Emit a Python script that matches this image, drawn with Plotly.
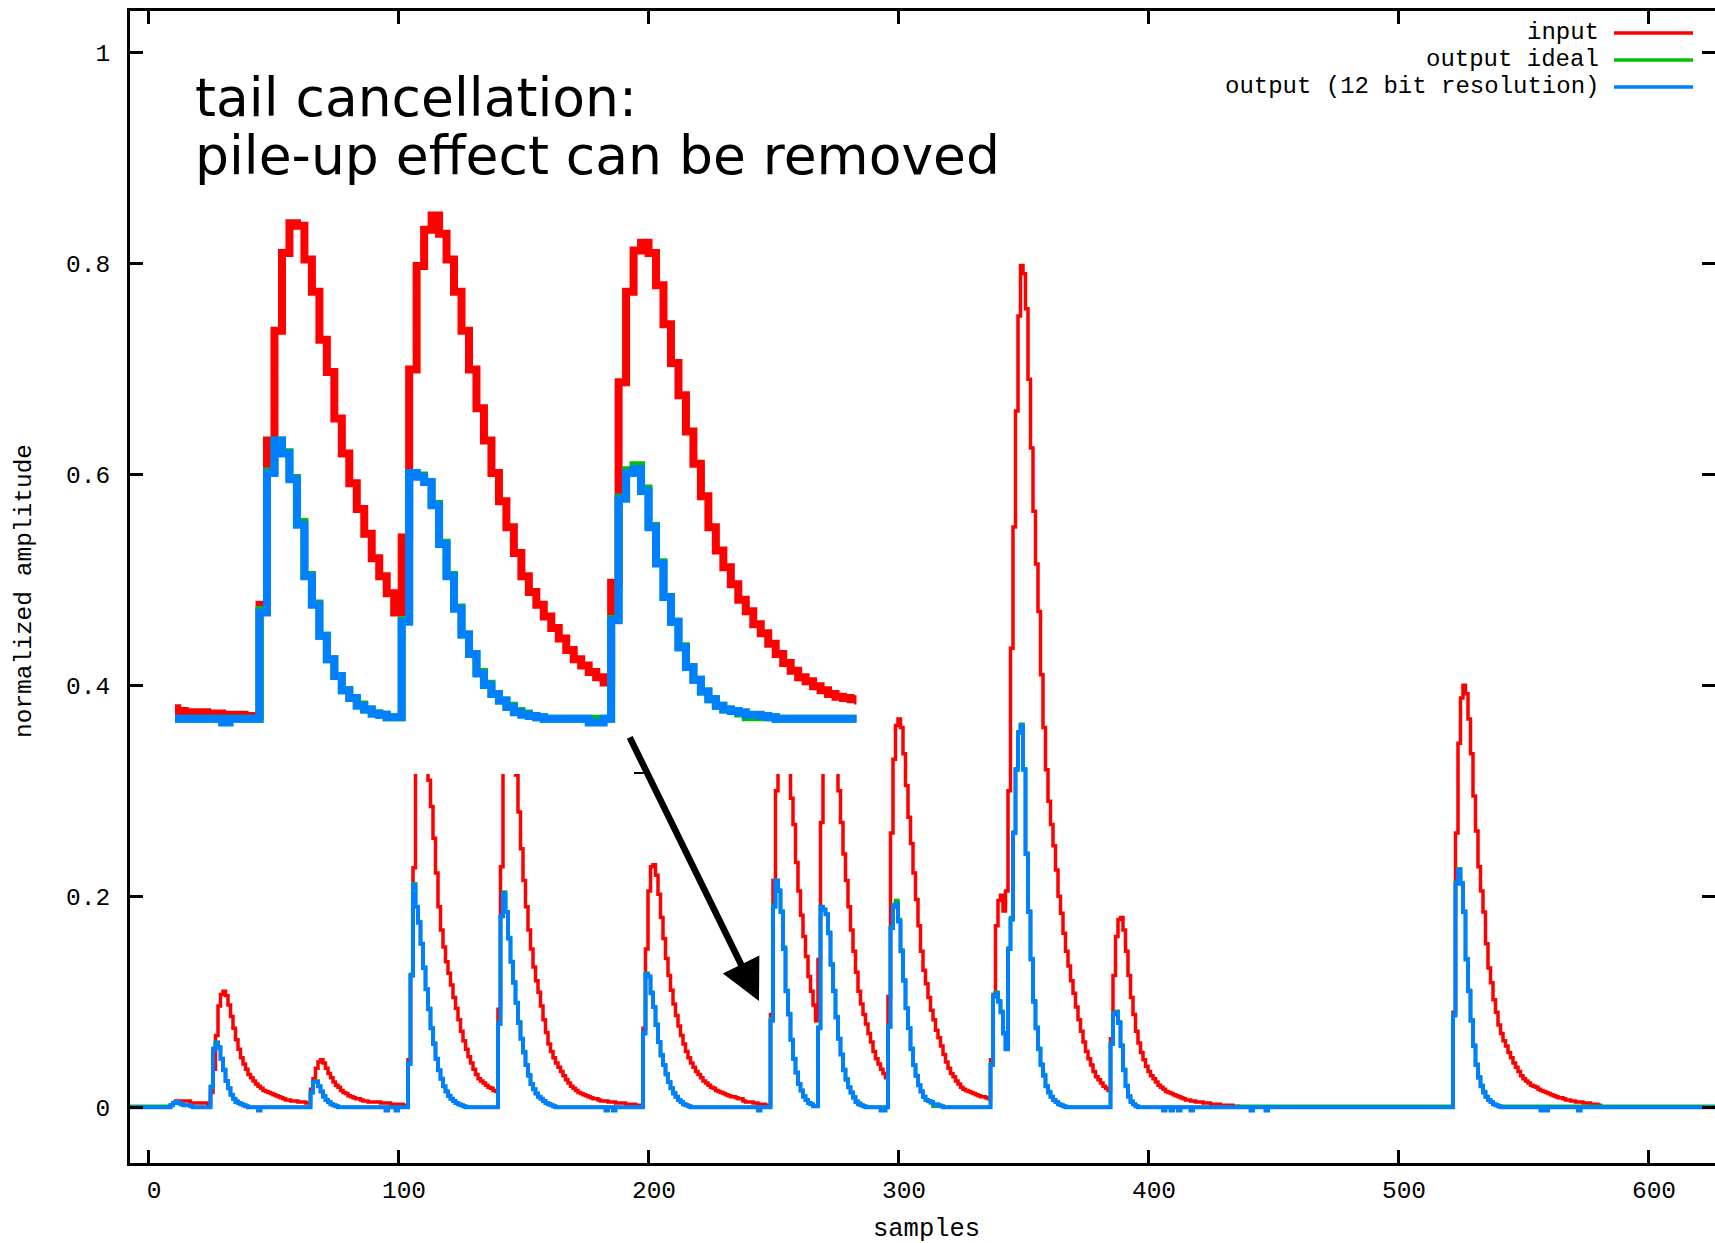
import plotly.graph_objects as go

# ---------------- data ----------------
X_FIRST, X_LAST = -8, 627
samples = list(range(X_FIRST, X_LAST + 1))

# input signal: (first sample, values)
input_pulses = [
    (9, [0.002, 0.004, 0.006, 0.006, 0.006, 0.006, 0.006, 0.006, 0.004, 0.004, 0.004, 0.004, 0.004, 0.004, 0.004, 0.003]),
    (25, [0.014, 0.036, 0.068, 0.096, 0.107, 0.110, 0.106, 0.097, 0.086, 0.075, 0.064, 0.055, 0.047, 0.041, 0.036, 0.031,
          0.028, 0.025, 0.022, 0.020, 0.018, 0.016, 0.015, 0.014, 0.013, 0.012, 0.011, 0.010, 0.009, 0.008, 0.007, 0.007,
          0.006, 0.006, 0.006, 0.005, 0.005, 0.005, 0.004, 0.004]),
    (65, [0.017, 0.027, 0.037, 0.043, 0.045, 0.042, 0.037, 0.032, 0.028, 0.024, 0.021, 0.019, 0.016, 0.014, 0.013, 0.011,
          0.010, 0.009, 0.008, 0.008, 0.007, 0.006, 0.006, 0.005, 0.005, 0.005, 0.005, 0.005, 0.004, 0.004, 0.004, 0.004,
          0.003, 0.003, 0.003, 0.003, 0.003, 0.002, 0.002]),
    (104, [0.045, 0.125, 0.227, 0.330, 0.380, 0.392, 0.375, 0.345, 0.310, 0.285, 0.255, 0.222, 0.190, 0.168, 0.152, 0.138,
           0.127, 0.116, 0.104, 0.094, 0.083, 0.072, 0.063, 0.055, 0.048, 0.042, 0.036, 0.031, 0.027, 0.025, 0.023, 0.021,
           0.019, 0.018, 0.016, 0.015]),
    (140, [0.093, 0.228, 0.330, 0.375, 0.388, 0.372, 0.350, 0.315, 0.280, 0.245, 0.215, 0.190, 0.168, 0.150, 0.133, 0.120,
           0.109, 0.096, 0.083, 0.071, 0.060, 0.053, 0.047, 0.042, 0.038, 0.034, 0.030, 0.026, 0.023, 0.020, 0.018, 0.016,
           0.014, 0.013, 0.012, 0.011, 0.010, 0.009, 0.008, 0.008, 0.007, 0.006, 0.006, 0.006, 0.005, 0.005, 0.005, 0.004,
           0.004, 0.004, 0.004, 0.003, 0.003, 0.003, 0.003, 0.002, 0.002, 0.002]),
    (198, [0.075, 0.150, 0.205, 0.228, 0.230, 0.220, 0.202, 0.180, 0.160, 0.141, 0.125, 0.111, 0.098, 0.087, 0.077, 0.068,
           0.060, 0.053, 0.047, 0.042, 0.038, 0.034, 0.031, 0.028, 0.025, 0.023, 0.021, 0.019, 0.018, 0.016, 0.015, 0.014,
           0.013, 0.012, 0.011, 0.010, 0.010, 0.009, 0.008, 0.008, 0.006, 0.005, 0.005, 0.005, 0.004, 0.004, 0.003, 0.003,
           0.003, 0.002, 0.002]),
    (249, [0.088, 0.215, 0.300, 0.360, 0.383, 0.381, 0.355, 0.330, 0.293, 0.268, 0.232, 0.205, 0.182, 0.162, 0.143, 0.124,
           0.110, 0.097, 0.082, 0.140, 0.270, 0.350, 0.378, 0.389, 0.375, 0.355, 0.330, 0.300, 0.270, 0.240, 0.215, 0.190,
           0.168, 0.148, 0.128, 0.110, 0.098, 0.088, 0.079, 0.070, 0.062, 0.053, 0.046, 0.041, 0.036, 0.032, 0.028, 0.105,
           0.260, 0.330, 0.362, 0.368, 0.360, 0.335, 0.305, 0.275, 0.250, 0.222, 0.197, 0.172, 0.148, 0.130, 0.117, 0.104,
           0.092, 0.083, 0.073, 0.066, 0.058, 0.050, 0.043, 0.037, 0.032, 0.029, 0.025, 0.022, 0.019, 0.017, 0.016, 0.015,
           0.014, 0.013, 0.012, 0.011, 0.010, 0.010, 0.009, 0.008]),
    (337, [0.045, 0.107, 0.172, 0.196, 0.201, 0.186, 0.205, 0.300, 0.435, 0.550, 0.660, 0.750, 0.798, 0.790, 0.757, 0.690,
           0.625, 0.565, 0.515, 0.470, 0.410, 0.360, 0.320, 0.290, 0.268, 0.248, 0.225, 0.200, 0.184, 0.165, 0.148, 0.134,
           0.120, 0.108, 0.095, 0.083, 0.072, 0.062, 0.053, 0.046, 0.040, 0.034, 0.029, 0.026, 0.023, 0.020, 0.018, 0.016]),
    (385, [0.065, 0.125, 0.162, 0.178, 0.180, 0.168, 0.148, 0.125, 0.104, 0.088, 0.072, 0.061, 0.052, 0.045, 0.039, 0.034,
           0.030, 0.027, 0.024, 0.021, 0.019, 0.017, 0.015, 0.014, 0.013, 0.012, 0.011, 0.010, 0.009, 0.008, 0.007, 0.007,
           0.006, 0.006, 0.005, 0.005, 0.005, 0.004, 0.004, 0.004, 0.003, 0.003, 0.003, 0.003, 0.002, 0.002, 0.002, 0.002,
           0.002, 0.001, 0.001]),
    (522, [0.090, 0.260, 0.345, 0.388, 0.400, 0.392, 0.368, 0.335, 0.295, 0.262, 0.228, 0.205, 0.185, 0.155, 0.132, 0.118,
           0.102, 0.090, 0.078, 0.070, 0.063, 0.058, 0.052, 0.047, 0.042, 0.038, 0.034, 0.030, 0.027, 0.025, 0.023, 0.021,
           0.020, 0.019, 0.017, 0.016, 0.015, 0.014, 0.013, 0.012, 0.011, 0.010, 0.009, 0.009, 0.008, 0.007, 0.007, 0.006,
           0.006, 0.005, 0.005, 0.005, 0.004, 0.004, 0.004, 0.003, 0.003, 0.003, 0.002]),
]

# output ideal: flat runs (first, last, value) then pulses
ideal_runs = [(-8, 8, 0.001), (436, 521, 0.001), (541, 627, 0.001)]
ideal_pulses = [
    (9, [0.002, 0.004, 0.005, 0.004, 0.003, 0.002, 0.002, 0.002, 0.001, 0.000]),
    (25, [0.020, 0.056, 0.062, 0.057, 0.046, 0.036, 0.025, 0.018, 0.012, 0.008, 0.006, 0.004, 0.003, 0.002, 0.001]),
    (65, [0.014, 0.024, 0.025, 0.020, 0.015, 0.011, 0.007, 0.005, 0.003, 0.002, 0.001]),
    (104, [0.042, 0.126, 0.212, 0.190, 0.176, 0.155, 0.133, 0.112, 0.094, 0.075, 0.061, 0.046, 0.035, 0.027, 0.020, 0.015,
           0.011, 0.008, 0.006, 0.004, 0.003, 0.002, 0.001]),
    (140, [0.080, 0.181, 0.204, 0.185, 0.161, 0.138, 0.119, 0.099, 0.081, 0.065, 0.053, 0.040, 0.031, 0.022, 0.017, 0.013,
           0.010, 0.008, 0.006, 0.004, 0.003, 0.002, 0.001]),
    (198, [0.071, 0.127, 0.124, 0.109, 0.095, 0.079, 0.062, 0.050, 0.040, 0.032, 0.024, 0.018, 0.014, 0.010, 0.007, 0.005,
           0.003, 0.002, 0.001]),
    (249, [0.084, 0.191, 0.215, 0.206, 0.186, 0.152, 0.111, 0.089, 0.064, 0.046, 0.033, 0.022, 0.016, 0.011, 0.007, 0.004,
           0.003, 0.001, 0.001, 0.076, 0.190, 0.188, 0.183, 0.166, 0.136, 0.111, 0.086, 0.065, 0.050, 0.036, 0.027, 0.019,
           0.014, 0.010, 0.006, 0.004, 0.002, 0.001, 0.000, 0.000, 0.000, 0.000, 0.000, 0.000, 0.000, 0.000, 0.000, 0.077,
           0.171, 0.192, 0.196, 0.178, 0.149, 0.121, 0.094, 0.075, 0.056, 0.040, 0.030, 0.021, 0.015, 0.010, 0.007, 0.006,
           0.004, 0.001, 0.001, 0.001, 0.001]),
    (337, [0.041, 0.106, 0.109, 0.101, 0.091, 0.071, 0.056, 0.151, 0.180, 0.261, 0.321, 0.356, 0.363, 0.321, 0.241, 0.186,
           0.141, 0.101, 0.076, 0.056, 0.041, 0.031, 0.020, 0.015, 0.010, 0.007, 0.005, 0.003, 0.002, 0.001]),
    (385, [0.061, 0.089, 0.091, 0.081, 0.059, 0.036, 0.021, 0.011, 0.006, 0.003, 0.001]),
    (522, [0.088, 0.213, 0.226, 0.213, 0.186, 0.141, 0.111, 0.083, 0.059, 0.041, 0.029, 0.021, 0.015, 0.010, 0.007, 0.005,
           0.003, 0.002, 0.001]),
]

# output with 12 bit resolution
bit12_pulses = [
    (9, [0.002, 0.004, 0.005, 0.004, 0.003, 0.002, 0.002, 0.002, 0.001, 0.000]),
    (25, [0.019, 0.055, 0.061, 0.057, 0.046, 0.035, 0.025, 0.018, 0.012, 0.008, 0.005, 0.004, 0.003, 0.002, 0.001]),
    (44, [-0.003]),
    (65, [0.014, 0.024, 0.024, 0.020, 0.015, 0.010, 0.007, 0.005, 0.003, 0.002, 0.001]),
    (95, [-0.003]), (99, [-0.003]),
    (104, [0.041, 0.125, 0.211, 0.190, 0.175, 0.155, 0.132, 0.112, 0.093, 0.075, 0.060, 0.046, 0.035, 0.027, 0.020, 0.015,
           0.011, 0.008, 0.006, 0.004, 0.003, 0.002, 0.001]),
    (140, [0.079, 0.181, 0.203, 0.185, 0.160, 0.138, 0.118, 0.099, 0.080, 0.065, 0.052, 0.040, 0.030, 0.022, 0.017, 0.013,
           0.010, 0.008, 0.006, 0.004, 0.003, 0.002, 0.001]),
    (183, [-0.003]), (186, [-0.003]),
    (198, [0.070, 0.126, 0.124, 0.108, 0.095, 0.078, 0.062, 0.049, 0.040, 0.031, 0.024, 0.018, 0.013, 0.010, 0.007, 0.005,
           0.003, 0.002, 0.001]),
    (244, [-0.003]),
    (249, [0.082, 0.190, 0.215, 0.205, 0.185, 0.150, 0.110, 0.088, 0.064, 0.046, 0.033, 0.022, 0.016, 0.010, 0.007, 0.004,
           0.003, 0.001, 0.001, 0.075, 0.190, 0.187, 0.183, 0.165, 0.135, 0.110, 0.085, 0.065, 0.050, 0.035, 0.026, 0.019,
           0.014, 0.009, 0.005, 0.003, 0.002, 0.001, 0.000, 0.000, 0.000, 0.000, 0.000, 0.000, -0.003, -0.003, 0.000, 0.076,
           0.170, 0.190, 0.193, 0.176, 0.148, 0.120, 0.094, 0.075, 0.055, 0.040, 0.030, 0.021, 0.015, 0.010, 0.007, 0.006,
           0.005, 0.003, 0.003, 0.002, 0.001]),
    (337, [0.040, 0.105, 0.108, 0.100, 0.090, 0.070, 0.055, 0.150, 0.178, 0.260, 0.320, 0.355, 0.362, 0.320, 0.240, 0.185,
           0.140, 0.100, 0.075, 0.055, 0.040, 0.030, 0.020, 0.014, 0.010, 0.007, 0.005, 0.003, 0.002, 0.001]),
    (385, [0.060, 0.088, 0.090, 0.080, 0.058, 0.035, 0.020, 0.010, 0.005, 0.003, 0.001]),
    (406, [-0.003]), (409, [-0.003]), (412, [-0.003]), (417, [-0.003]), (441, [-0.003]), (447, [-0.003]),
    (522, [0.087, 0.212, 0.225, 0.212, 0.185, 0.140, 0.110, 0.082, 0.058, 0.040, 0.028, 0.020, 0.014, 0.010, 0.007, 0.005,
           0.003, 0.002, 0.001]),
    (557, [-0.003]), (559, [-0.003]), (572, [-0.003]),
]

series_names = ["input", "output ideal", "output (12 bit resolution)"]
series_colors = ["#ff0000", "#00c000", "#0080ff"]
x_ticks = [0, 100, 200, 300, 400, 500, 600]
y_ticks = [0, 0.2, 0.4, 0.6, 0.8, 1]
y_tick_text = ["0", "0.2", "0.4", "0.6", "0.8", "1"]


def build(pulses, runs=()):
    arr = [0.0] * len(samples)
    for first, last, val in runs:
        for s in range(first, last + 1):
            arr[s - X_FIRST] = val
    for start, vals in pulses:
        for i, v in enumerate(vals):
            idx = start - X_FIRST + i
            if 0 <= idx < len(arr):
                arr[idx] = v
    return arr


input_signal = build(input_pulses)
output_ideal = build(ideal_pulses, ideal_runs)
output_12bit = build(bit12_pulses)
all_series = [input_signal, output_ideal, output_12bit]

# ---------------- layout geometry (pixels) ----------------
W, H = 1715, 1243
PL, PR, PT, PB = 130, 1715, 11, 1163


def px_x(px):
    return (px - PL) / (PR - PL)


def px_y(py):
    return (PB - py) / (PB - PT)


MONO = "Liberation Mono"

fig = go.Figure()

# main traces
for vals, name, col, w in zip(all_series, series_names, series_colors, [3.5, 3.5, 4]):
    fig.add_trace(go.Scatter(x=samples, y=vals, mode="lines", name=name,
                             line=dict(color=col, width=w, shape="hv"),
                             xaxis="x", yaxis="y", hoverinfo="skip"))

# dummy trace for right-side mirror ticks
fig.add_trace(go.Scatter(x=[0], y=[0], mode="markers", marker=dict(opacity=0),
                         xaxis="x", yaxis="y3", hoverinfo="skip", showlegend=False))

# inset: white backdrop then magnified view of same data
fig.add_trace(go.Scatter(x=[200, 400, 400, 200, 200], y=[-1, -1, 1, 1, -1], mode="lines",
                         fill="toself", fillcolor="white", line=dict(width=0),
                         xaxis="x2", yaxis="y2", hoverinfo="skip", showlegend=False))
for vals, name, col in zip(all_series, series_names, series_colors):
    fig.add_trace(go.Scatter(x=samples, y=vals, mode="lines", name=name,
                             line=dict(color=col, width=8, shape="hv"),
                             xaxis="x2", yaxis="y2", hoverinfo="skip", showlegend=False))

tickfont = dict(family=MONO, size=24.5, color="black")
xr = [(PL - 148) / 2.5, (PR - 148) / 2.5]
yr = [(1107.3 - PB) / 1055, (1107.3 - PT) / 1055]

fig.update_layout(
    width=W, height=H,
    margin=dict(l=PL, r=W - PR, t=PT, b=H - PB, pad=0),
    paper_bgcolor="white", plot_bgcolor="white",
    showlegend=False,
    xaxis=dict(range=xr, tickvals=x_ticks, ticks="inside", ticklen=13, tickwidth=3,
               tickcolor="black", showline=True, linecolor="black", linewidth=3,
               mirror="ticks", showgrid=False, zeroline=False, tickfont=tickfont,
               ticklabelstandoff=3, ticklabelshift=6),
    yaxis=dict(range=yr, tickvals=y_ticks, ticktext=y_tick_text, ticks="inside",
               ticklen=13, tickwidth=3, tickcolor="black", showline=True,
               linecolor="black", linewidth=3, mirror=False, showgrid=False,
               zeroline=False, tickfont=tickfont, ticklabelstandoff=12),
    yaxis3=dict(range=yr, overlaying="y", side="right", tickvals=y_ticks, ticks="inside",
                ticklen=13, tickwidth=3, tickcolor="black", showticklabels=False,
                showline=False, showgrid=False, zeroline=False),
    xaxis2=dict(domain=[px_x(175), px_x(856.5)], range=[237.7, 328.8], visible=False,
                anchor="y2"),
    yaxis2=dict(domain=[px_y(774), px_y(200)], range=[-0.0428, 0.401], visible=False,
                anchor="x2"),
)

ann = []
# legend (text right aligned, line sample to the right)
for i, (name, col) in enumerate(zip(series_names, series_colors)):
    yy = 33 + i * 27
    ann.append(dict(x=px_x(1600), y=px_y(yy), xref="paper", yref="paper", text=name,
                    showarrow=False, xanchor="right", yanchor="middle", borderpad=0,
                    font=dict(family=MONO, size=24, color="black")))
    fig.add_shape(type="line", xref="paper", yref="paper", x0=px_x(1614), x1=px_x(1693),
                  y0=px_y(yy), y1=px_y(yy), line=dict(color=col, width=3.5))

# axis titles
ann.append(dict(x=px_x(926), y=px_y(1229), xref="paper", yref="paper", text="samples",
                showarrow=False, xanchor="center", yanchor="middle",
                font=dict(family=MONO, size=25.5, color="black")))
ann.append(dict(x=px_x(24), y=px_y(591), xref="paper", yref="paper",
                text="normalized amplitude", textangle=-90, showarrow=False,
                xanchor="center", yanchor="middle",
                font=dict(family=MONO, size=24.5, color="black")))

# big text
bigfont = dict(family="DejaVu Sans", size=53.5, color="black")
ann.append(dict(x=px_x(193), y=px_y(97), xref="paper", yref="paper",
                text="tail cancellation:", showarrow=False, xanchor="left",
                yanchor="middle", font=bigfont))
ann.append(dict(x=px_x(193), y=px_y(155), xref="paper", yref="paper",
                text="pile-up effect can be removed", showarrow=False, xanchor="left",
                yanchor="middle", font=bigfont))

# arrow
ann.append(dict(x=244.4, y=0.1008, xref="x", yref="y", ax=192.4, ay=0.352,
                axref="x", ayref="y", text="", showarrow=True, arrowhead=2,
                arrowsize=1.25, arrowwidth=6.5, arrowcolor="black", standoff=0))

fig.update_layout(annotations=ann)

# small dash near arrow start
fig.add_shape(type="line", xref="paper", yref="paper", x0=px_x(634), x1=px_x(647),
              y0=px_y(773), y1=px_y(773), line=dict(color="black", width=2))

fig.write_html("out.html")
